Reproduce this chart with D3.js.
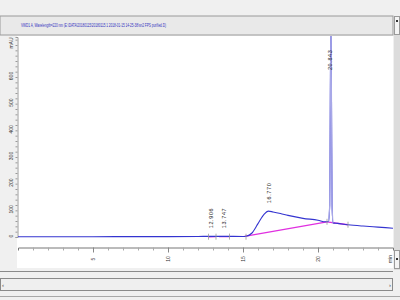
<!DOCTYPE html>
<html>
<head>
<meta charset="utf-8">
<script src="https://cdn.jsdelivr.net/npm/d3@7"></script>
<style>
body{margin:0;background:#f0f0f0;}
svg{display:block;font-family:"Liberation Sans",Arial,sans-serif;}
</style>
</head>
<body>
<script>
// signal trace, minutes vs mAU
var traceTime = [0, 2, 5, 8, 10, 12, 12.9, 13.7, 15.0, 15.2, 15.6, 16.0, 16.4, 16.7, 17.0, 17.5, 18.0, 19.0, 20.0, 20.5, 20.7, 20.78, 20.82, 20.86, 20.9, 20.94, 21.0, 21.3, 22.0, 23.0, 24.0, 25.0];
var traceMau  = [1, 1, 1, 1.5, 1.5, 2, 2.5, 2.5, 2, 3, 15, 50, 85, 97, 94, 88, 81, 70, 63, 57, 58, 120, 500, 790, 500, 120, 53, 51, 46, 41, 37, 33];

// integration baselines (magenta)
var baseSegments = [
  [[12.7, 1], [13.2, 1.2]],
  [[13.4, 1.5], [14.1, 1.5]],
  [[15.1, 2], [20.6, 57]],
  [[20.6, 57], [22.0, 46]]
];
var baseMarks = [12.7, 13.2, 14.1, 15.2, 20.6, 22.0];

var peakTimes = [12.9, 13.75, 16.75, 20.86];
var peakLabels = ["12.906", "13.747", "16.770", "20.843"];
var peakLabelBase = [3, 3, 97, 596];

var yTicks = [0, 100, 200, 300, 400, 500, 600];
var xTicks = [5, 10, 15, 20];

var title = "VWD1 A, Wavelength=220 nm (E:\\DATA\\20180115\\20180115 1 2018-01-15 14-25-38\\sn2 FPS purified.D)";

var W = 400, H = 300;
var svg = d3.select("body").append("svg").attr("width", W).attr("height", H);

// window chrome
svg.append("rect").attr("width", W).attr("height", H).attr("fill", "#f0f0f0");
svg.append("rect").attr("x", 0).attr("y", 16).attr("width", 393).attr("height", 19)
  .attr("fill", "#e9e9e9").attr("stroke", "#9a9a9a").attr("stroke-width", 1);
svg.append("text").attr("x", 21).attr("y", 26.5).attr("font-size", 5)
  .attr("fill", "#3030c0").attr("textLength", 145).attr("lengthAdjust", "spacingAndGlyphs").text(title);

// right scroll strip
svg.append("rect").attr("x", 394).attr("y", 16).attr("width", 6).attr("height", 254).attr("fill", "#dcdcdc");
svg.append("rect").attr("x", 394.5).attr("y", 16.5).attr("width", 5).attr("height", 18).attr("fill", "#f4f4f4").attr("stroke", "#9a9a9a");
svg.append("rect").attr("x", 396).attr("y", 20).attr("width", 2).attr("height", 2).attr("fill", "#333");
svg.append("rect").attr("x", 394.5).attr("y", 250.5).attr("width", 5).attr("height", 18).attr("fill", "#f4f4f4").attr("stroke", "#9a9a9a");
svg.append("rect").attr("x", 396).attr("y", 258).attr("width", 2).attr("height", 2).attr("fill", "#333");

// plot panel
svg.append("rect").attr("x", 17).attr("y", 36).attr("width", 376).attr("height", 232).attr("fill", "#ffffff");

// bottom scroll bar
svg.append("line").attr("x1", 0).attr("x2", 393).attr("y1", 271.5).attr("y2", 271.5).attr("stroke", "#8a8a8a");
svg.append("rect").attr("x", 0.5).attr("y", 278.5).attr("width", 392).attr("height", 12)
  .attr("fill", "#efefef").attr("stroke", "#8a8a8a");
svg.append("text").attr("x", 2).attr("y", 287).attr("font-size", 6).attr("fill", "#444").text("‹");
svg.append("text").attr("x", 389).attr("y", 287).attr("font-size", 6).attr("fill", "#444").text("›");
svg.append("line").attr("x1", 0).attr("x2", 400).attr("y1", 296.5).attr("y2", 296.5).attr("stroke", "#a8a8a8");

var x = d3.scaleLinear().domain([0, 25]).range([18, 393]);
var y = d3.scaleLinear().domain([0, 750]).range([237, 37]);

// axes
var xAxis = d3.axisBottom(x).tickValues(d3.range(1, 25, 1)).tickSize(3).tickFormat("");
var gx = svg.append("g").attr("transform", "translate(0,247.5)").call(xAxis);
gx.select(".domain").attr("stroke", "#777");
gx.selectAll(".tick line").attr("stroke", "#aaa");
var gx2 = svg.append("g").attr("transform", "translate(0,247.5)")
  .call(d3.axisBottom(x).tickValues(xTicks).tickSize(5).tickFormat(""));
gx2.select(".domain").remove();
gx2.selectAll(".tick line").attr("stroke", "#888");

svg.selectAll(".xlab").data(xTicks.concat(["min"])).enter().append("text")
  .attr("transform", function(d, i){ var px = i < xTicks.length ? x(d) : 390; return "translate(" + (px + 1.5) + ",259) rotate(-90)"; })
  .attr("text-anchor", "middle").attr("font-size", 5).attr("fill", "#333").text(function(d){ return d; });

var yAxis = d3.axisLeft(y).tickValues(d3.range(0, 741, 20)).tickSize(2).tickFormat("");
var gy = svg.append("g").attr("transform", "translate(17.5,0)").call(yAxis);
gy.select(".domain").attr("stroke", "#999");
gy.selectAll(".tick line").attr("stroke", "#999");
svg.selectAll(".ylab").data(yTicks).enter().append("text")
  .attr("transform", function(d){ return "translate(13," + (y(d) - 1) + ") rotate(-90)"; })
  .attr("text-anchor", "middle").attr("font-size", 5).attr("fill", "#333").text(function(d){ return d; });
svg.append("text").attr("transform", "translate(13,43) rotate(-90)")
  .attr("text-anchor", "middle").attr("font-size", 5).attr("fill", "#333").text("mAU");

// traces
svg.append("clipPath").attr("id", "clip").append("rect").attr("x", 18).attr("y", 36).attr("width", 375).attr("height", 211);
var plot = svg.append("g").attr("clip-path", "url(#clip)");

var line = d3.line().x(function(d){ return x(d[0]); }).y(function(d){ return y(d[1]); });
var tracePts = traceTime.map(function(t, i){ return [t, traceMau[i]]; });

plot.selectAll(".base").data(baseSegments).enter().append("path")
  .attr("d", line).attr("fill", "none").attr("stroke", "#e030e0").attr("stroke-width", 1.3);
plot.append("path").datum(tracePts).attr("d", line.curve(d3.curveMonotoneX))
  .attr("fill", "none").attr("stroke", "#3434d0").attr("stroke-width", 1.1);
// lighter sharp peak overlay
var peakPts = tracePts.filter(function(d){ return d[0] >= 20.7 && d[0] <= 21.0; });
plot.append("path").datum(peakPts).attr("d", line)
  .attr("fill", "none").attr("stroke", "#a8a8e8").attr("stroke-width", 1.2);

plot.selectAll(".mark").data(baseMarks).enter().append("line")
  .attr("x1", function(d){ return x(d); }).attr("x2", function(d){ return x(d); })
  .attr("y1", function(d){ var s = baseSegments.flat().find(function(p){ return p[0] === d; }); return y(s ? s[1] : 1) - 3; })
  .attr("y2", function(d){ var s = baseSegments.flat().find(function(p){ return p[0] === d; }); return y(s ? s[1] : 1) + 3; })
  .attr("stroke", "#999").attr("stroke-width", 0.8);

svg.selectAll(".plab").data(peakLabels).enter().append("text")
  .attr("transform", function(d, i){ return "translate(" + (x(peakTimes[i]) + 1.5) + "," + (y(peakLabelBase[i]) - 8) + ") rotate(-90)"; })
  .attr("font-size", 5.5).attr("fill", "#222").attr("letter-spacing", 0.6).text(function(d){ return d; });
</script>
</body>
</html>
